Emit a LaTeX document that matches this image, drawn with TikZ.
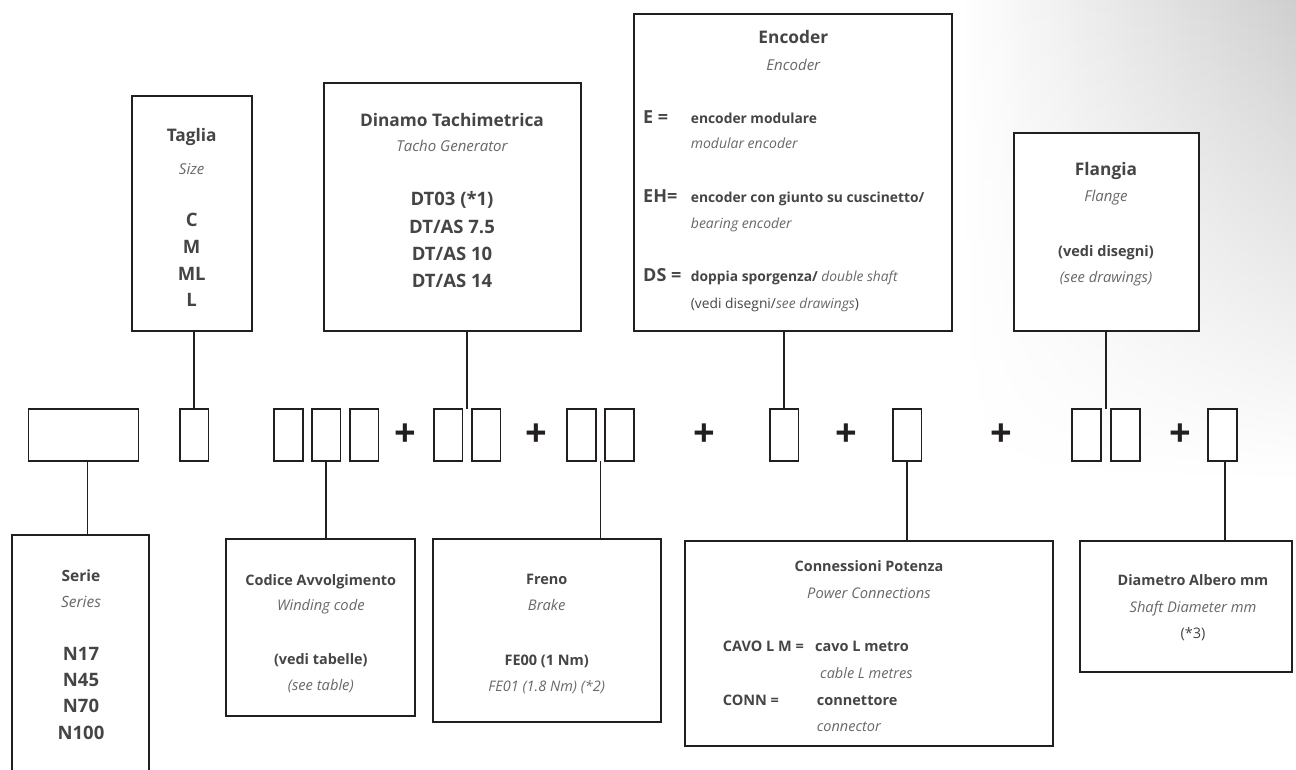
\documentclass[tikz,border=0pt]{standalone}
\usepackage{fontspec}
\setmainfont{Open Sans}
\usetikzlibrary{calc,fadings}
\definecolor{ln}{HTML}{231F20}
\definecolor{tb}{HTML}{454547}
\definecolor{ti}{HTML}{67686B}
\tikzset{
  box/.style={draw=ln, fill=white, line width=2pt, rectangle, inner sep=0pt, outer sep=0pt},
  sq/.style={draw=ln, fill=white, line width=1.7pt, rectangle, minimum width=28.7pt, minimum height=51.7pt, inner sep=0pt, outer sep=0pt},
  conn/.style={draw=ln, line width=1.7pt},
  B/.style={font=\bfseries\fontsize{#1}{#1}\selectfont, text=tb, anchor=base, inner sep=0pt},
  I/.style={font=\itshape\fontsize{#1}{#1}\selectfont, text=ti, anchor=base, inner sep=0pt},
  R/.style={font=\fontsize{#1}{#1}\selectfont, text=tb, anchor=base, inner sep=0pt},
  plus/.style={font=\bfseries\fontsize{38}{38}\selectfont, text=ln, inner sep=0pt}
}
\begin{document}
\begin{tikzpicture}[x=1pt,y=-1pt]
\useasboundingbox (0,0) rectangle (1296,769);
% background gradient (top right)
\shade[left color=white, right color=black!19, path fading=south] (960,0) rectangle (1296,480);

% ---------- top boxes ----------
\node[box, minimum width=120pt, minimum height=235pt] (taglia) at (191.7,213.5) {};
\node[box, minimum width=257.5pt, minimum height=248pt] (dinamo) at (452.5,206.85) {};
\node[box, minimum width=318.5pt, minimum height=316.5pt] (encoder) at (793,172.65) {};
\node[box, minimum width=185.3pt, minimum height=197.5pt] (flangia) at (1106.35,232.15) {};

% ---------- bottom boxes ----------
\node[box, minimum width=137pt, minimum height=264pt] (serie) at (80.5,667.15) {};
\node[box, minimum width=189pt, minimum height=176.4pt] (codice) at (320.5,627.5) {};
\node[box, minimum width=227.4pt, minimum height=183pt] (freno) at (547,630.8) {};
\node[box, minimum width=368pt, minimum height=205.3pt] (connes) at (869,643.65) {};
\node[box, minimum width=212pt, minimum height=131.3pt] (diam) at (1185.5,606.65) {};

% ---------- code row ----------
\node[sq, minimum width=110pt] (A) at (83.5,435) {};
\node[sq] (B1) at (194.2,435) {};
\node[sq] (C1) at (288.5,435) {};
\node[sq] (C2) at (326.2,435) {};
\node[sq] (C3) at (364.2,435) {};
\node[plus] (p1) at (405,435) {+};
\node[sq] (D1) at (448,435) {};
\node[sq] (D2) at (486.2,435) {};
\node[plus] (p2) at (536,435) {+};
\node[sq] (F1) at (581.3,435) {};
\node[sq] (F2) at (619.5,435) {};
\node[plus] (p3) at (704,435) {+};
\node[sq] (G1) at (784.2,435) {};
\node[plus] (p4) at (846.7,435) {+};
\node[sq] (H1) at (907,435) {};
\node[plus] (p5) at (1001.7,435) {+};
\node[sq] (I1) at (1086.3,435) {};
\node[sq] (I2) at (1125.3,435) {};
\node[plus] (p6) at (1180,435) {+};
\node[sq] (J1) at (1222.5,435) {};

% ---------- connectors ----------
\coordinate (aS) at ([xshift=4pt]A.south);
\draw[conn] (aS) -- (aS |- serie.north);
\draw[conn] (B1.north) -- (B1.north |- taglia.south);
\draw[conn] (C2.south) -- (C2.south |- codice.north);
\coordinate (dgap) at ($(D1.north east)!0.5!(D2.north west)$);
\draw[conn] (dgap) -- (dgap |- dinamo.south);
\coordinate (fgap) at ($(F1.south east)!0.5!(F2.south west)$);
\draw[conn] (fgap) -- (fgap |- freno.north);
\draw[conn] (G1.north) -- (G1.north |- encoder.south);
\draw[conn] (H1.south) -- (H1.south |- connes.north);
\coordinate (igap) at ($(I1.north east)!0.5!(I2.north west)$);
\draw[conn] (igap) -- (igap |- flangia.south);
\coordinate (jS) at ([xshift=2.5pt]J1.south);
\draw[conn] (jS) -- (jS |- diam.north);

% ---------- Taglia ----------
\node[B=17.3] (tg1) at (191.7,141.7) {Taglia};
\node[I=15] (tg2) at (191.7,174.3) {Size};
\node[B=18.5] (tg3) at (191.7,226.7) {C};
\node[B=18.5] (tg4) at (191.7,253.3) {M};
\node[B=18.5] (tg5) at (191.7,280.3) {ML};
\node[B=18.5] (tg6) at (191.7,306.7) {L};

% ---------- Dinamo ----------
\node[B=17.3] (dn1) at (452,126.7) {Dinamo Tachimetrica};
\node[I=15] (dn2) at (452,151.7) {Tacho Generator};
\node[B=18.5] (dn3) at (452,205.5) {DT03 (*1)};
\node[B=18.5] (dn4) at (452,233) {DT/AS 7.5};
\node[B=18.5] (dn5) at (452,260) {DT/AS 10};
\node[B=18.5] (dn6) at (452,287) {DT/AS 14};

% ---------- Encoder ----------
\node[B=17.3] (en1) at (793.3,43.3) {Encoder};
\node[I=15] (en2) at (793.3,70) {Encoder};
\node[B=18, anchor=base west] (eE) at (643,123.3) {E =};
\node[B=13.8, anchor=base west] (eE1) at (690.7,123.3) {encoder modulare};
\node[I=14, anchor=base west] (eE2) at (690.7,148.3) {modular encoder};
\node[B=18, anchor=base west] (eH) at (643,202.7) {EH=};
\node[B=13.8, anchor=base west] (eH1) at (690.7,202.7) {encoder con giunto su cuscinetto/};
\node[I=14, anchor=base west] (eH2) at (690.7,228.3) {bearing encoder};
\node[B=18, anchor=base west] (eD) at (643,281.7) {DS =};
\node[B=13.8, anchor=base west] (eD1) at (690.7,281.7) {doppia sporgenza/ {\mdseries\itshape\color{ti}double shaft}};
\node[R=13.8, anchor=base west] (eD2) at (690.7,308.3) {(vedi disegni/{\itshape\color{ti}see drawings})};

% ---------- Flangia ----------
\node[B=17.3] (fl1) at (1106,175.7) {Flangia};
\node[I=15] (fl2) at (1106,201.7) {Flange};
\node[B=14.5] (fl3) at (1106,256) {(vedi disegni)};
\node[I=14.7] (fl4) at (1106,282.7) {(see drawings)};

% ---------- Serie ----------
\node[B=15.5] (se1) at (81,581.7) {Serie};
\node[I=15.5] (se2) at (81,607.3) {Series};
\node[B=18.5] (se3) at (81,660.7) {N17};
\node[B=18.5] (se4) at (81,686.7) {N45};
\node[B=18.5] (se5) at (81,712.7) {N70};
\node[B=18.5] (se6) at (81,739.3) {N100};

% ---------- Codice ----------
\node[B=14.4] (co1) at (320.8,585) {Codice Avvolgimento};
\node[I=14.7] (co2) at (320.8,610.5) {Winding code};
\node[B=14.4] (co3) at (320.8,664) {(vedi tabelle)};
\node[I=14.7] (co4) at (320.8,690) {(see table)};

% ---------- Freno ----------
\node[B=14.5] (fr1) at (546.7,584) {Freno};
\node[I=14.7] (fr2) at (546.7,610.7) {Brake};
\node[B=14.5] (fr3) at (546.7,665) {FE00 (1 Nm)};
\node[I=14.5] (fr4) at (546.7,691) {FE01 (1.8 Nm) (*2)};

% ---------- Connessioni ----------
\node[B=14.4] (cn1) at (869,571.7) {Connessioni Potenza};
\node[I=14.7] (cn2) at (869,598.3) {Power Connections};
\node[B=14.5, anchor=base west] (cn3) at (722.7,651.7) {CAVO L M =};
\node[B=14.5, anchor=base west] (cn4) at (815,651.7) {cavo L metro};
\node[I=14.5, anchor=base west] (cn5) at (820,678.3) {cable L metres};
\node[B=14.5, anchor=base west] (cn6) at (722.7,705) {CONN =};
\node[B=14.5, anchor=base west] (cn7) at (816.7,705) {connettore};
\node[I=14.5, anchor=base west] (cn8) at (816.7,731.7) {connector};

% ---------- Diametro ----------
\node[B=14.4] (di1) at (1193,585) {Diametro Albero mm};
\node[I=14.7] (di2) at (1193,612.7) {Shaft Diameter mm};
\node[R=14.5] (di3) at (1193,638.3) {(*3)};
\end{tikzpicture}
\end{document}
